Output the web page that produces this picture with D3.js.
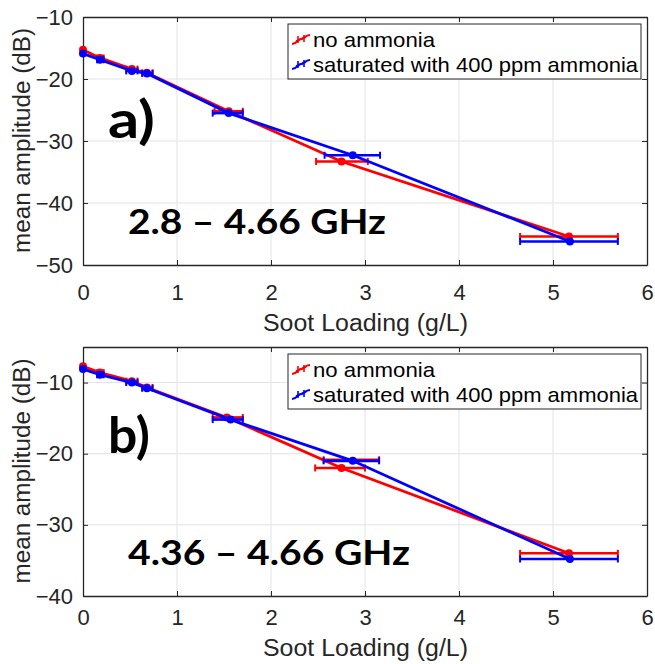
<!DOCTYPE html>
<html>
<head>
<meta charset="utf-8">
<script src="https://cdn.jsdelivr.net/npm/d3@7"></script>
<style>
  body { margin: 0; background: #fff; }
  svg { display: block; }
</style>
</head>
<body>
<div id="chart"></div>
<script>
// Panel a) 2.8 - 4.66 GHz
const redXA = [0, 0.18, 0.52, 0.68, 1.55, 2.75, 5.17];
const redYA = [-15.3, -16.6, -18.4, -19.0, -25.2, -33.3, -45.4];
const redLoA = [0, 0.15, 0.46, 0.63, 1.40, 2.48, 4.65];
const redHiA = [0, 0.22, 0.58, 0.74, 1.70, 3.03, 5.69];
const blueXA = [0, 0.18, 0.52, 0.68, 1.55, 2.87, 5.18];
const blueYA = [-15.9, -16.9, -18.7, -19.1, -25.5, -32.3, -46.2];
const blueLoA = [0, 0.15, 0.46, 0.63, 1.38, 2.57, 4.65];
const blueHiA = [0, 0.22, 0.58, 0.74, 1.70, 3.16, 5.69];

// Panel b) 4.36 - 4.66 GHz
const redXB = [0, 0.18, 0.52, 0.68, 1.53, 2.75, 5.17];
const redYB = [-7.7, -8.6, -9.8, -10.7, -14.9, -22.0, -34.0];
const redLoB = [0, 0.15, 0.46, 0.63, 1.38, 2.47, 4.65];
const redHiB = [0, 0.22, 0.58, 0.74, 1.70, 3.00, 5.69];
const blueXB = [0, 0.18, 0.52, 0.68, 1.57, 2.87, 5.18];
const blueYB = [-8.1, -8.9, -10.0, -10.8, -15.2, -21.0, -34.8];
const blueLoB = [0, 0.15, 0.46, 0.63, 1.38, 2.56, 4.65];
const blueHiB = [0, 0.22, 0.58, 0.74, 1.70, 3.15, 5.69];
// stray red bar sitting just above the blue one near 2.87 in panel b
const extraRedB = { y: -20.85, lo: 2.56, hi: 3.15 };

const xTicks = [0, 1, 2, 3, 4, 5, 6];
const yTicksA = [-50, -40, -30, -20, -10];
const yTicksB = [-40, -30, -20, -10];
const seriesNames = ['no ammonia', 'saturated with 400 ppm ammonia'];

const RED = '#ff0000';
const BLUE = '#0000ff';
const AXIS = '#262626';
const SANS = "'Liberation Sans', Arial, sans-serif";
const BOLD = "Lato, 'Open Sans', sans-serif";

const totalWidth = 655;
const totalHeight = 664;

const svg = d3.select('#chart')
    .append('svg')
    .attr('width', totalWidth)
    .attr('height', totalHeight);

function drawPanel(opts) {
    const left = 83, right = 647;
    const top = opts.top, bottom = opts.bottom;

    const xScale = d3.scaleLinear().domain([0, 6]).range([left, right]);
    const yScale = d3.scaleLinear().domain(opts.yDomain).range([bottom, top]);

    const g = svg.append('g');

    // grid
    g.append('g').selectAll('line')
        .data(xTicks.slice(1, -1))
        .enter().append('line')
        .attr('x1', d => xScale(d)).attr('x2', d => xScale(d))
        .attr('y1', top).attr('y2', bottom)
        .attr('stroke', '#e3e3e3').attr('stroke-width', 1);
    g.append('g').selectAll('line')
        .data(opts.yTicks.filter(d => d > opts.yDomain[0] && d < opts.yDomain[1]))
        .enter().append('line')
        .attr('x1', left).attr('x2', right)
        .attr('y1', d => yScale(d)).attr('y2', d => yScale(d))
        .attr('stroke', '#e3e3e3').attr('stroke-width', 1);

    // axes, MATLAB style: ticks inside, box on
    const tick = 5;
    g.append('g')
        .attr('transform', `translate(0,${bottom})`)
        .call(d3.axisBottom(xScale).tickValues(xTicks).tickSizeInner(-tick).tickSizeOuter(0).tickPadding(opts.xPad).tickFormat(d3.format('d')))
        .call(a => a.select('.domain').attr('stroke', AXIS).attr('stroke-width', 1.3))
        .call(a => a.selectAll('line').attr('stroke', AXIS))
        .call(a => a.selectAll('text').attr('font-size', 22).attr('font-family', SANS).attr('fill', AXIS));
    g.append('g')
        .attr('transform', `translate(${left},0)`)
        .call(d3.axisLeft(yScale).tickValues(opts.yTicks).tickSizeInner(-tick).tickSizeOuter(0).tickPadding(10).tickFormat(d3.format('d')))
        .call(a => a.select('.domain').attr('stroke', AXIS).attr('stroke-width', 1.3))
        .call(a => a.selectAll('line').attr('stroke', AXIS))
        .call(a => a.selectAll('text').attr('font-size', 22).attr('font-family', SANS).attr('fill', AXIS));
    g.append('g')
        .attr('transform', `translate(0,${top})`)
        .call(d3.axisTop(xScale).tickValues(xTicks).tickSizeInner(-tick).tickSizeOuter(0).tickFormat(''))
        .call(a => a.select('.domain').attr('stroke', AXIS).attr('stroke-width', 1.3))
        .call(a => a.selectAll('line').attr('stroke', AXIS));
    g.append('g')
        .attr('transform', `translate(${right},0)`)
        .call(d3.axisRight(yScale).tickValues(opts.yTicks).tickSizeInner(-tick).tickSizeOuter(0).tickFormat(''))
        .call(a => a.select('.domain').attr('stroke', AXIS).attr('stroke-width', 1.3))
        .call(a => a.selectAll('line').attr('stroke', AXIS));

    // axis labels
    g.append('text')
        .attr('x', (left + right) / 2 - 102)
        .attr('y', bottom + opts.xLabelOffset)
        .attr('font-size', 23)
        .attr('font-family', SANS)
        .attr('fill', AXIS)
        .attr('textLength', 205)
        .attr('lengthAdjust', 'spacingAndGlyphs')
        .text('Soot Loading (g/L)');
    g.append('text')
        .attr('transform', `translate(30,${(top + bottom) / 2 + 112}) rotate(-90)`)
        .attr('font-size', 23)
        .attr('font-family', SANS)
        .attr('fill', AXIS)
        .attr('textLength', 225)
        .attr('lengthAdjust', 'spacingAndGlyphs')
        .text('mean amplitude (dB)');

    // panel annotations
    g.append('text')
        .attr('x', 108).attr('y', top + opts.letterY)
        .attr('font-size', opts.letterSize).attr('font-weight', 'bold')
        .attr('font-family', BOLD)
        .attr('textLength', opts.letterWidth)
        .attr('lengthAdjust', 'spacingAndGlyphs')
        .text(opts.letter);
    g.append('text')
        .attr('x', 128).attr('y', top + opts.bandY)
        .attr('font-size', 34).attr('font-weight', 'bold')
        .attr('font-family', BOLD)
        .attr('textLength', opts.bandWidth)
        .attr('lengthAdjust', 'spacingAndGlyphs')
        .text(opts.band);

    const line = d3.line().x(d => xScale(d.x)).y(d => yScale(d.y));

    function drawBar(sel, color) {
        sel.append('line')
            .attr('x1', d => xScale(d.lo)).attr('x2', d => xScale(d.hi))
            .attr('y1', d => yScale(d.y)).attr('y2', d => yScale(d.y))
            .attr('stroke', color).attr('stroke-width', 2.6);
        sel.append('line')
            .attr('x1', d => xScale(d.lo)).attr('x2', d => xScale(d.lo))
            .attr('y1', d => yScale(d.y) - 3.5).attr('y2', d => yScale(d.y) + 3.5)
            .attr('stroke', color).attr('stroke-width', 2);
        sel.append('line')
            .attr('x1', d => xScale(d.hi)).attr('x2', d => xScale(d.hi))
            .attr('y1', d => yScale(d.y) - 3.5).attr('y2', d => yScale(d.y) + 3.5)
            .attr('stroke', color).attr('stroke-width', 2);
    }

    function drawSeries(xs, ys, los, his, color) {
        const pts = xs.map((x, i) => ({ x: x, y: ys[i], lo: los[i], hi: his[i] }));
        const s = g.append('g');
        s.append('path')
            .datum(pts)
            .attr('d', line)
            .attr('fill', 'none')
            .attr('stroke', color)
            .attr('stroke-width', 2.8);
        const bars = s.selectAll('g')
            .data(pts.filter(p => p.hi > p.lo))
            .enter().append('g');
        drawBar(bars, color);
        s.selectAll('circle')
            .data(pts)
            .enter().append('circle')
            .attr('cx', d => xScale(d.x))
            .attr('cy', d => yScale(d.y))
            .attr('r', 4)
            .attr('fill', color);
    }

    drawSeries(opts.red[0], opts.red[1], opts.red[2], opts.red[3], RED);
    if (opts.extra) {
        drawBar(g.append('g').selectAll('g').data([opts.extra]).enter().append('g'), RED);
    }
    drawSeries(opts.blue[0], opts.blue[1], opts.blue[2], opts.blue[3], BLUE);

    // legend
    const lx = 288, ly = top + 7, lw = 353, lh = 55;
    const leg = g.append('g');
    leg.append('rect')
        .attr('x', lx).attr('y', ly).attr('width', lw).attr('height', lh)
        .attr('fill', '#fff').attr('stroke', AXIS).attr('stroke-width', 1);
    const legWidths = [122, 325];
    [RED, BLUE].forEach((c, i) => {
        const cy = ly + 16 + i * 25;
        const ig = leg.append('g').attr('transform', `translate(${lx + 13},${cy})`);
        ig.append('path')
            .attr('d', 'M-9,4 C-4,4 -3,-1 0,-1 C3,-1 4,-5 9,-5')
            .attr('fill', 'none').attr('stroke', c).attr('stroke-width', 2);
        ig.append('path')
            .attr('d', 'M-5,1 L5,-3 M-3,-4 L-3,3 M3,-5 L3,2')
            .attr('fill', 'none').attr('stroke', c).attr('stroke-width', 1.6);
        leg.append('text')
            .attr('x', lx + 25).attr('y', cy + 7)
            .attr('font-size', 21)
            .attr('font-family', SANS)
            .attr('fill', '#000')
            .attr('textLength', legWidths[i])
            .attr('lengthAdjust', 'spacingAndGlyphs')
            .text(seriesNames[i]);
    });
}

drawPanel({
    top: 17, bottom: 265, yDomain: [-50, -10], yTicks: yTicksA,
    xPad: 19, xLabelOffset: 66,
    letter: 'a)', letterY: 121, letterSize: 52, letterWidth: 47,
    band: '2.8 \u2013 4.66 GHz', bandY: 217, bandWidth: 258,
    red: [redXA, redYA, redLoA, redHiA],
    blue: [blueXA, blueYA, blueLoA, blueHiA]
});

drawPanel({
    top: 347, bottom: 596, yDomain: [-40, -5], yTicks: yTicksB,
    xPad: 13, xLabelOffset: 60,
    letter: 'b)', letterY: 106, letterSize: 50, letterWidth: 42,
    band: '4.36 \u2013 4.66 GHz', bandY: 218, bandWidth: 282,
    red: [redXB, redYB, redLoB, redHiB],
    blue: [blueXB, blueYB, blueLoB, blueHiB],
    extra: extraRedB
});
</script>
</body>
</html>
